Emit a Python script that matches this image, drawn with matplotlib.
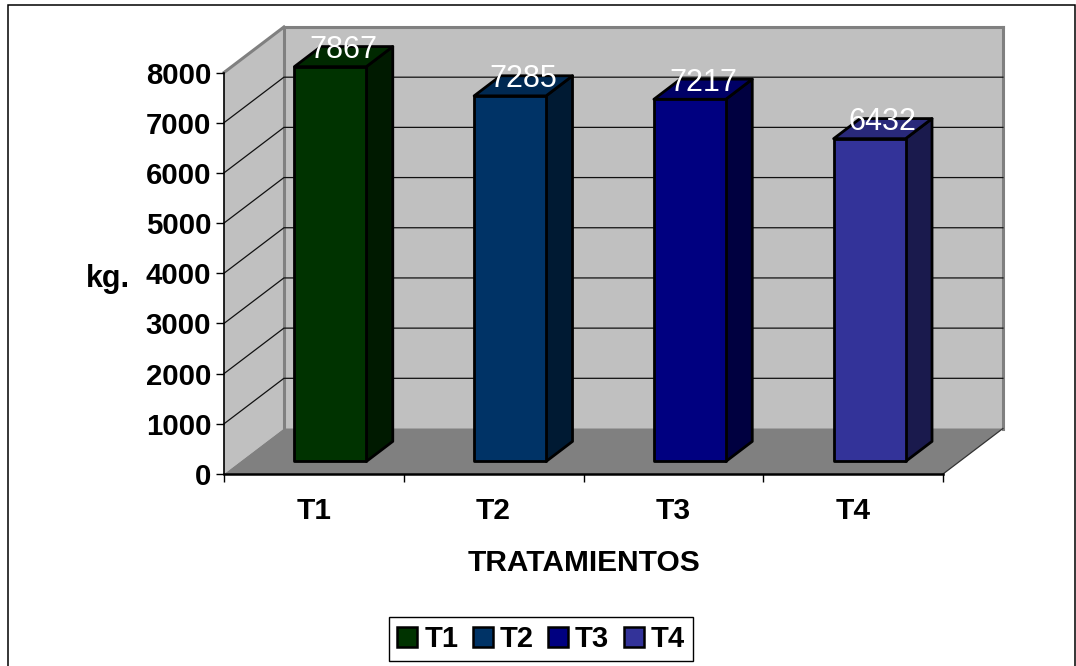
import matplotlib
matplotlib.use("Agg")
import matplotlib.pyplot as plt
from matplotlib.patches import Polygon, Patch, Rectangle

categories = ["T1", "T2", "T3", "T4"]
values = [7867, 7285, 7217, 6432]
yticks = [0, 1000, 2000, 3000, 4000, 5000, 6000, 7000, 8000]
front_colors = ["#003300", "#003366", "#000080", "#333399"]
side_colors = ["#001a00", "#001a33", "#000040", "#1a1a4d"]
top_colors = ["#002900", "#002952", "#000066", "#29297a"]

W, H = 1076, 666
FS = 21.5
plt.rcParams["font.family"] = ["Liberation Sans", "DejaVu Sans"]
fig = plt.figure(figsize=(W / 100, H / 100), dpi=100, facecolor="white")
L, R, T, B = 224, 943, 72.5, 474
ax = fig.add_axes([L / W, 1 - B / H, (R - L) / W, (B - T) / H], facecolor="none")
ax.set_xlim(0, 4)
ax.set_ylim(0, 8000)

DX, DY = 60 / 180, 45.5 / 50.19 * 1000


def P(x, y, z):
    return (x + z * DX, y + z * DY)


def face(pts, fc, ec="none", lw=0, z=1):
    ax.add_patch(Polygon([P(*p) for p in pts], closed=True, fc=fc, ec=ec, lw=lw,
                         clip_on=False, zorder=z, joinstyle="round"))


# figure frame
fig.add_artist(Rectangle((7.5 / W, -0.01), (1075 - 7.5) / W, 1 - 5.5 / H + 0.01,
                         transform=fig.transFigure, fc="none", ec="black", lw=1.1))

# walls and floor
face([(0, 0, 0), (0, 0, 1), (0, 8000, 1), (0, 8000, 0)], "#c0c0c0", z=1)
face([(0, 0, 1), (4, 0, 1), (4, 8000, 1), (0, 8000, 1)], "#c0c0c0", z=1)
face([(0, 0, 0), (4, 0, 0), (4, 0, 1), (0, 0, 1)], "#808080", z=2)

# wall edges
for a, b in [((0, 8000, 0), (0, 8000, 1)), ((0, 8000, 1), (4, 8000, 1)),
             ((4, 8000, 1), (4, 0, 1)), ((0, 8000, 1), (0, 0, 1))]:
    p, q = P(*a), P(*b)
    ax.plot([p[0], q[0]], [p[1], q[1]], color="#808080", lw=2.2, clip_on=False, zorder=1.5,
            solid_capstyle="projecting")
p, q = P(4, 0, 0), P(4, 0, 1)
ax.plot([p[0], q[0]], [p[1], q[1]], color="#333333", lw=0.9, clip_on=False, zorder=2.5)

# gridlines
for v in yticks[1:-1]:
    pts = [P(0, v, 0), P(0, v, 1), P(4, v, 1)]
    ax.plot([a for a, _ in pts], [b for _, b in pts], color="#111111", lw=0.9,
            clip_on=False, zorder=1.6)

# bars
bw = 72 / 180
z0, z1 = 16.5 / 60, 43 / 60
for i, (v, fc, sc, tc) in enumerate(zip(values, front_colors, side_colors, top_colors)):
    x0 = i + 0.5 - bw / 2
    x1 = x0 + bw
    lw = 2.0
    face([(x1, 0, z0), (x1, 0, z1), (x1, v, z1), (x1, v, z0)], sc, "black", lw, 3)
    face([(x0, v, z0), (x1, v, z0), (x1, v, z1), (x0, v, z1)], tc, "black", lw, 3)
    face([(x0, 0, z0), (x1, 0, z0), (x1, v, z0), (x0, v, z0)], fc, "black", lw, 3)
    lx, ly = P(i + 0.5, v, (z0 + z1) / 2)
    ax.text(lx, ly + 130, str(v), color="white", fontsize=22, ha="center", va="center",
            zorder=5, clip_on=False)

# axes
for s in ["top", "right"]:
    ax.spines[s].set_visible(False)
ax.spines["left"].set_linewidth(1.2)
ax.spines["bottom"].set_linewidth(1.8)
ax.spines["left"].set_zorder(4)
ax.spines["bottom"].set_zorder(4)
ax.set_yticks(yticks)
ax.set_yticklabels([str(v) for v in yticks], fontsize=21.2, fontweight="bold")
ax.set_xticks(range(5))
ax.set_xticklabels([""] * 5)
ax.set_xticks([i + 0.5 for i in range(4)], minor=True)
ax.set_xticklabels(categories, minor=True, fontsize=FS, fontweight="bold")
ax.tick_params(axis="x", which="minor", length=0, pad=16.5)
ax.tick_params(axis="x", which="major", length=5.5, width=1)
ax.tick_params(axis="y", length=5.5, width=1, pad=3.6)
ax.set_xlabel("TRATAMIENTOS", fontsize=FS, fontweight="bold", labelpad=17.5)
ax.set_ylabel("kg.", fontsize=22, fontweight="bold", rotation=0, ha="center", va="center")
ax.yaxis.set_label_coords((108 - L) / (R - L), (B - 279) / (B - T))

# legend
handles = [Patch(fc=c, ec="black", lw=1.8, label=n) for c, n in zip(front_colors, categories)]
leg = fig.legend(handles=handles, ncol=4, loc="center", bbox_to_anchor=(541 / W, 1 - 639 / H),
                 prop={"weight": "bold", "size": 21}, frameon=True, fancybox=False,
                 edgecolor="black", framealpha=1, handlelength=0.68, handleheight=0.68,
                 handletextpad=0.24, columnspacing=0.5, borderpad=0.27, borderaxespad=0)
leg.get_frame().set_linewidth(1)

fig.savefig("out.png", dpi=100, facecolor="white")
